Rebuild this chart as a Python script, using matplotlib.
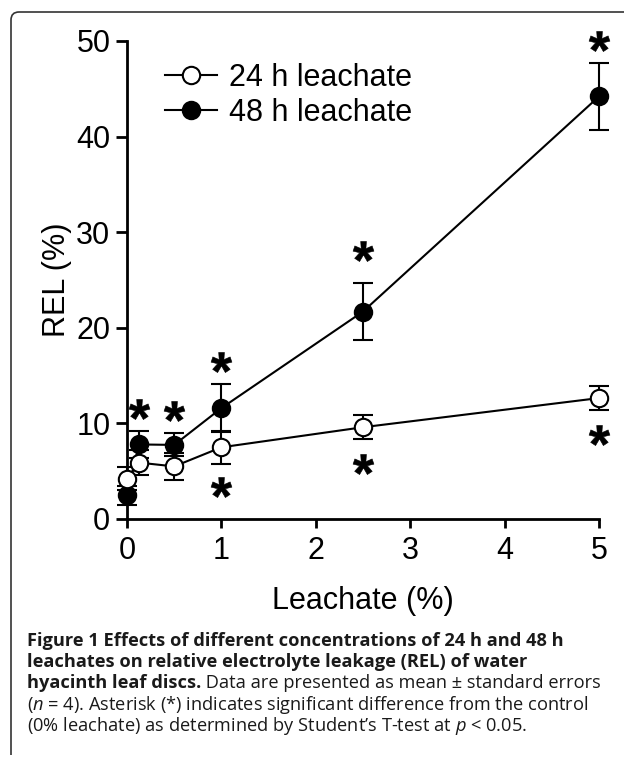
import matplotlib
matplotlib.use("Agg")
import matplotlib.pyplot as plt
from matplotlib.path import Path
from matplotlib.patches import PathPatch

# data
leachate = [0, 0.125, 0.5, 1, 2.5, 5]
rel_24h = [4.2, 5.9, 5.5, 7.5, 9.6, 12.65]
se_24h = [1.2, 1.3, 1.45, 1.7, 1.25, 1.27]
rel_48h = [2.5, 7.8, 7.75, 11.6, 21.7, 44.2]
se_48h = [1.0, 1.4, 1.2, 2.5, 3.0, 3.5]

# asterisks (x, y) marking significant difference
star_above_x = [0.125, 0.5, 1, 2.5, 5]
star_above_y = [11.5, 11.3, 16.4, 28.0, 50.0]
star_below_x = [1, 2.5, 5]
star_below_y = [3.3, 5.8, 8.8]

legend_labels = ["24 h leachate", "48 h leachate"]
xticks = [0, 1, 2, 3, 4, 5]
yticks = [0, 10, 20, 30, 40, 50]

plt.rcParams["font.family"] = "Liberation Sans"
plt.rcParams["mathtext.fontset"] = "custom"
plt.rcParams["mathtext.rm"] = "Liberation Sans:bold"
plt.rcParams["mathtext.it"] = "Open Sans:italic"

W, H = 624, 761
fig = plt.figure(figsize=(W / 100, H / 100), dpi=100)
ax = fig.add_axes([127 / W, 242 / H, 472 / W, 478 / H])

lw = 1.5
ax.errorbar(leachate, rel_48h, yerr=se_48h, fmt="none", ecolor="black",
            elinewidth=lw, capsize=7, capthick=lw, zorder=2, clip_on=False)
l48, = ax.plot(leachate, rel_48h, "-o", color="black", lw=lw, ms=12.5,
               mfc="black", mec="black", mew=1.5, zorder=3, clip_on=False)
ax.errorbar(leachate, rel_24h, yerr=se_24h, fmt="none", ecolor="black",
            elinewidth=lw, capsize=7, capthick=lw, zorder=4, clip_on=False)
l24, = ax.plot(leachate, rel_24h, "-o", color="black", lw=lw, ms=12.5,
               mfc="white", mec="black", mew=1.5, zorder=5, clip_on=False)

ax.plot(star_above_x, star_above_y, ls="none", marker="$*$", ms=15,
        color="black", mew=0.4, clip_on=False, zorder=6)
ax.plot(star_below_x, star_below_y, ls="none", marker="$*$", ms=15,
        color="black", mew=0.4, clip_on=False, zorder=6)

ax.set_xlim(0, 5)
ax.set_ylim(0, 50)
ax.set_xticks(xticks)
ax.set_yticks(yticks)
for s in ["top", "right"]:
    ax.spines[s].set_visible(False)
for s in ["left", "bottom"]:
    ax.spines[s].set_linewidth(2)
ax.tick_params(axis="both", width=2, labelsize=22, direction="out")
ax.tick_params(axis="y", length=8, pad=4)
ax.tick_params(axis="x", length=6.5, pad=6)
ax.set_xlabel("Leachate (%)", fontsize=22, labelpad=14)
ax.set_ylabel("REL (%)", fontsize=22, labelpad=3)

ax.legend([l24, l48], legend_labels, loc="upper left", frameon=False,
          fontsize=22, handlelength=1.7, handletextpad=0.4,
          labelspacing=0.15, borderpad=0, borderaxespad=0,
          bbox_to_anchor=(165 / W, 1 - 63 / H),
          bbox_transform=fig.transFigure)

# rounded frame (top-left corner only visible)
verts = [(11, H - 755), (11, H - 20), (11, H - 12), (19, H - 12), (W + 5, H - 12)]
verts = [(vx / W, vy / H) for vx, vy in verts]
codes = [Path.MOVETO, Path.LINETO, Path.CURVE3, Path.CURVE3, Path.LINETO]
fig.patches.append(PathPatch(Path(verts, codes), fill=False, ec="#333333",
                             lw=1.2, transform=fig.transFigure))

# caption
caption = [
    [("Figure 1 Effects of different concentrations of 24 h and 48 h", "bold")],
    [("leachates on relative electrolyte leakage (REL) of water", "bold")],
    [("hyacinth leaf discs.", "bold"),
     (" Data are presented as mean \u00b1 standard errors", "normal")],
    [("($n$ = 4). Asterisk (*) indicates significant difference from the control", "normal")],
    [("(0% leachate) as determined by Student\u2019s T-test at $p$ < 0.05.", "normal")],
]
baselines = [646, 667, 688, 710, 731]
renderer = fig.canvas.get_renderer()


def draw_caption(size, keep=True):
    widths = []
    made = []
    for pieces, yb in zip(caption, baselines):
        x = 27
        for txt, weight in pieces:
            t = fig.text(x / W, 1 - yb / H, txt, fontsize=size, family="Open Sans",
                         fontweight=weight, color="#1a1a1a", va="baseline", ha="left")
            x += t.get_window_extent(renderer).width
            made.append(t)
        widths.append(x - 27)
    if not keep:
        for t in made:
            t.remove()
    return widths


w = draw_caption(10.5, keep=False)
size = 10.5 * 576 / w[2]
draw_caption(size)

fig.savefig("out.png", dpi=100)
